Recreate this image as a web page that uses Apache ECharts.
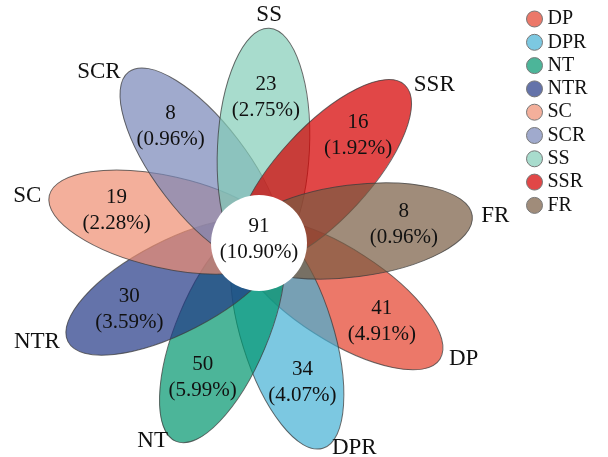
<!DOCTYPE html>
<html><head><meta charset="utf-8">
<script src="https://cdn.jsdelivr.net/npm/echarts@6/dist/echarts.min.js"></script>
<style>html,body{margin:0;padding:0;background:#fff}#c{width:608px;height:457px}</style>
</head><body><div id="c"></div>
<script>
// ---- data ----
const names    = ['DP','DPR','NT','NTR','SC','SCR','SS','SSR','FR'];
const counts   = [41, 34, 50, 30, 19, 8, 23, 16, 8];
const percents = ['4.91','4.07','5.99','3.59','2.28','0.96','2.75','1.92','0.96'];
const colors   = ['rgba(228,62,41,0.7)','rgba(69,176,212,0.7)','rgba(0,150,110,0.7)',
                  'rgba(34,55,134,0.7)','rgba(238,141,112,0.7)','rgba(119,134,184,0.7)',
                  'rgba(131,205,184,0.7)','rgba(214,0,0,0.72)','rgba(119,91,65,0.7)'];
const coreCount = 91;
const corePercent = '10.90';

// ---- layout ----
const FIRST_ANGLE = 122.7, STEP = 360 / names.length;
const TIP = 215, D = 95, A = 120, B = 46, LABEL_R = 146, CORE_R = 48;
const FONT = 'Liberation Serif, Times New Roman, serif';

function dir(k){
  const th = (FIRST_ANGLE + STEP * k) * Math.PI / 180;
  return {deg:(FIRST_ANGLE + STEP * k) % 360, ux:Math.sin(th), uy:Math.cos(th)};
}

function petal(params, api){
  const k = api.value(0);
  const d = dir(k);
  const c = api.coord([D * d.ux, D * d.uy]);
  const o = api.coord([0, 0]);
  const ax = api.coord([A, 0]), by = api.coord([0, B]);
  return {
    type:'ellipse', x:c[0], y:c[1], rotation:Math.atan2(d.uy, d.ux),
    shape:{cx:0, cy:0, rx:ax[0]-o[0], ry:o[1]-by[1]},
    style:{fill:api.visual('color'), stroke:'rgba(60,60,60,0.75)', lineWidth:1}
  };
}

function labels(params, api){
  const k = api.value(0);
  const d = dir(k);
  const l = api.coord([LABEL_R * d.ux, LABEL_R * d.uy]);
  const t = api.coord([TIP * d.ux, TIP * d.uy]);
  let nx, ny, align, va = 'middle';
  if (d.deg < 20 || d.deg > 340) { nx = t[0]; ny = t[1] - 2; align = 'center'; va = 'bottom'; }
  else if (d.ux > 0) { nx = t[0] + 9; ny = t[1]; align = 'left'; }
  else { nx = t[0] - 8; ny = t[1]; align = 'right'; }
  return {type:'group', children:[
    {type:'text', x:l[0], y:l[1], style:{text: api.value(1) + '\n(' + percents[k] + '%)',
      fontFamily:FONT, fontSize:21, lineHeight:26, fill:'#111', align:'center', verticalAlign:'middle'}},
    {type:'text', x:nx, y:ny, style:{text: names[k], fontFamily:FONT, fontSize:23,
      fill:'#111', align:align, verticalAlign:va}}
  ]};
}

function core(params, api){
  const o = api.coord([0, 0]);
  const r = api.coord([CORE_R, 0]);
  return {type:'group', children:[
    {type:'circle', shape:{cx:o[0], cy:o[1], r:r[0]-o[0]}, style:{fill:'#fff'}},
    {type:'text', x:o[0], y:o[1]-4, style:{text: api.value(0) + '\n(' + corePercent + '%)',
      fontFamily:FONT, fontSize:21, lineHeight:26, fill:'#111', align:'center', verticalAlign:'middle'}}
  ]};
}

const series = names.map((n, k) => ({
  type:'custom', name:n, coordinateSystem:'cartesian2d', renderItem:petal,
  itemStyle:{color:colors[k]}, data:[[k, counts[k]]], silent:true, z:2
}));
series.push({type:'custom', name:'core', coordinateSystem:'cartesian2d', renderItem:core,
  data:[[coreCount]], silent:true, z:5});
series.push({type:'custom', name:'labels', coordinateSystem:'cartesian2d', renderItem:labels,
  data:names.map((n, k) => [k, counts[k]]), silent:true, z:10});

const chart = echarts.init(document.getElementById('c'));
chart.setOption({
  animation:false,
  grid:{left:0, right:0, top:0, bottom:0},
  xAxis:{type:'value', min:-259, max:349, show:false},
  yAxis:{type:'value', min:-214, max:243, show:false},
  legend:{data:names, orient:'vertical', left:521, top:4, icon:'circle',
    itemWidth:16, itemHeight:16, itemGap:3.3,
    itemStyle:{borderColor:'#777', borderWidth:1},
    textStyle:{fontFamily:FONT, fontSize:20, color:'#111', lineHeight:20}},
  series:series
});
</script></body></html>
